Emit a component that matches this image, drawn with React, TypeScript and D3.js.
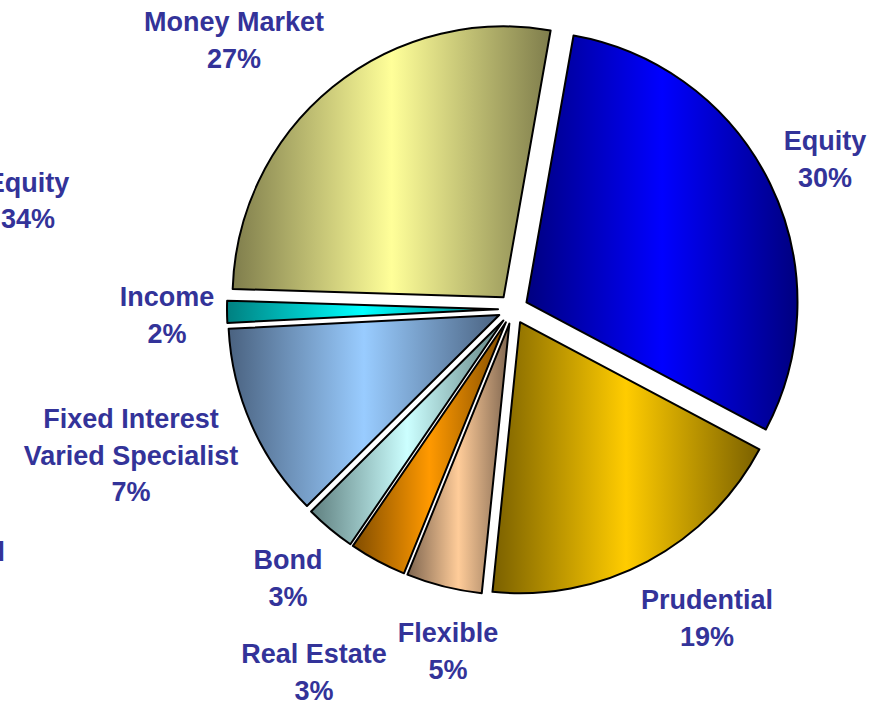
import React, { useEffect, useRef } from 'react';
import * as d3 from 'd3';

// slices clockwise, starting just right of 12 o'clock
const categories = ['Equity', 'Prudential', 'Flexible', 'Real Estate', 'Bond', 'Fixed Interest\nVaried Specialist', 'Income', 'Money Market'];
const shares = [29.9, 18.8, 4.5, 3.4, 3.0, 11.6, 1.3, 27.2];
const percentLabels = ['30%', '19%', '5%', '3%', '3%', '7%', '2%', '27%'];

const lightColors = ['#0000ff', '#ffcc00', '#ffcc99', '#ff9900', '#ccffff', '#99ccff', '#00ffff', '#ffff99'];
const darkColors = ['#000080', '#7a6000', '#7f6650', '#804c00', '#5f7f7f', '#4a6280', '#008080', '#7f7d4c'];

// label anchor (centre x, first baseline y)
const labelPos = [
  [825, 150],
  [707, 609],
  [448, 642],
  [314, 663],
  [288, 569],
  [131, 428],
  [167, 306],
  [234, 31],
];

// labels of the neighbouring chart, cut off at the left edge
const cutLabels = [
  { lines: ['Equity', '34%'], x: 28, y: 192, anchor: 'middle' },
  { lines: ['Prudential'], x: 5, y: 561, anchor: 'end' },
];

const textColor = '#333399';
const lineGap = 36.5;

export default function App() {
  const ref = useRef<SVGSVGElement>(null);

  useEffect(() => {
    const svg = d3.select(ref.current);
    svg.selectAll('*').remove();

    const cx = 513;
    const cy = 309;
    const radius = 271;
    const explode = 15;

    const pie = d3
      .pie<number>()
      .sort(null)
      .value((d) => d)
      .startAngle((10 * Math.PI) / 180)
      .endAngle((370 * Math.PI) / 180);
    const arcs = pie(shares);
    const arc = d3.arc<d3.PieArcDatum<number>>().innerRadius(0).outerRadius(radius);

    const defs = svg.append('defs');
    arcs.forEach((a, i) => {
      const g = defs
        .append('linearGradient')
        .attr('id', `grad${i}`)
        .attr('x1', 0)
        .attr('x2', 1)
        .attr('y1', 0)
        .attr('y2', 0);
      g.append('stop').attr('offset', 0).attr('stop-color', darkColors[i]);
      g.append('stop').attr('offset', 0.5).attr('stop-color', lightColors[i]);
      g.append('stop').attr('offset', 1).attr('stop-color', darkColors[i]);
    });

    const chart = svg.append('g').attr('transform', `translate(${cx},${cy})`);
    chart
      .selectAll('path')
      .data(arcs)
      .join('path')
      .attr('transform', (d) => {
        const m = (d.startAngle + d.endAngle) / 2;
        return `translate(${explode * Math.sin(m)},${-explode * Math.cos(m)})`;
      })
      .attr('d', arc)
      .attr('fill', (d, i) => `url(#grad${i})`)
      .attr('stroke', '#000')
      .attr('stroke-width', 2)
      .attr('stroke-linejoin', 'round');

    const labels = svg
      .append('g')
      .attr('font-family', '"Liberation Sans", Arial, sans-serif')
      .attr('font-weight', 'bold')
      .attr('font-size', 27)
      .attr('fill', textColor)
      .attr('text-anchor', 'middle');

    categories.forEach((name, i) => {
      const lines = [...name.split('\n'), percentLabels[i]];
      const t = labels.append('text').attr('x', labelPos[i][0]).attr('y', labelPos[i][1]);
      lines.forEach((line, j) => {
        t.append('tspan')
          .attr('x', labelPos[i][0])
          .attr('dy', j === 0 ? 0 : lineGap)
          .text(line);
      });
    });

    cutLabels.forEach((c) => {
      const t = labels.append('text').attr('x', c.x).attr('y', c.y).attr('text-anchor', c.anchor);
      c.lines.forEach((line, j) => {
        t.append('tspan').attr('x', c.x).attr('dy', j === 0 ? 0 : lineGap - 1).text(line);
      });
    });
  }, []);

  return (
    <svg
      ref={ref}
      width={892}
      height={704}
      style={{ position: 'absolute', left: 0, top: 0, background: '#fff' }}
    />
  );
}
